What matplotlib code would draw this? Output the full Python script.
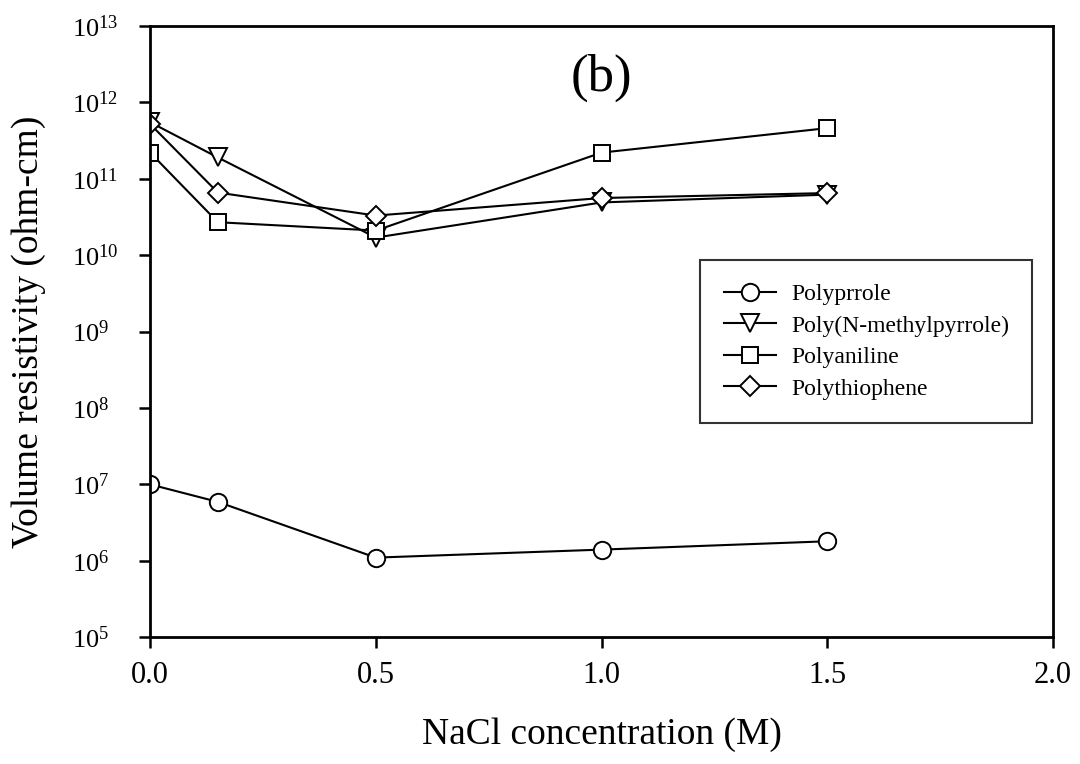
import numpy as np
import matplotlib
matplotlib.use("Agg")
import matplotlib.pyplot as plt
from matplotlib.ticker import LogLocator, LogFormatterMathtext, FixedLocator, FormatStrFormatter

plt.rcParams['font.family'] = 'Liberation Serif'
plt.rcParams['mathtext.fontset'] = 'custom'
plt.rcParams['mathtext.rm'] = 'Liberation Serif'
plt.rcParams['mathtext.it'] = 'Liberation Serif:italic'

# NaCl concentration (M)
nacl = [0.0, 0.15, 0.5, 1.0, 1.5]

# volume resistivity (ohm-cm)
polypyrrole = [1.0e7, 5.9e6, 1.1e6, 1.4e6, 1.8e6]
poly_nmp = [5.5e11, 1.9e11, 1.7e10, 4.9e10, 6.2e10]
polyaniline = [2.2e11, 2.7e10, 2.1e10, 2.2e11, 4.6e11]
polythiophene = [5.2e11, 6.6e10, 3.3e10, 5.6e10, 6.5e10]

labels = ["Polyprrole", "Poly(N-methylpyrrole)", "Polyaniline", "Polythiophene"]

fig = plt.figure(figsize=(10.8, 7.64), dpi=100)
ax = fig.add_axes([0.139, 0.166, 0.836, 0.800])

style = dict(color='black', lw=1.5, markerfacecolor='white',
             markeredgecolor='black', markeredgewidth=1.4)
ax.plot(nacl, polypyrrole, marker='o', ms=12.5, label=labels[0], **style)
ax.plot(nacl, poly_nmp, marker='v', ms=12.5, label=labels[1], **style)
ax.plot(nacl, polyaniline, marker='s', ms=11.5, label=labels[2], **style)
ax.plot(nacl, polythiophene, marker='D', ms=10, label=labels[3], **style)

ax.set_yscale('log')
ax.set_ylim(1e5, 1e13)
ax.set_xlim(0, 2.0)
ax.yaxis.set_major_locator(LogLocator(base=10, numticks=20))
ax.yaxis.set_minor_locator(FixedLocator([]))
ax.yaxis.set_major_formatter(LogFormatterMathtext())
ax.xaxis.set_major_locator(FixedLocator([0.0, 0.5, 1.0, 1.5, 2.0]))
ax.xaxis.set_major_formatter(FormatStrFormatter('%.1f'))

for s in ax.spines.values():
    s.set_linewidth(2)
ax.tick_params(direction='out', length=8, width=1.8)
ax.tick_params(axis='x', labelsize=22, pad=9)
ax.tick_params(axis='y', labelsize=19, pad=48)
for t in ax.get_yticklabels():
    t.set_horizontalalignment('left')

ax.set_xlabel("NaCl concentration (M)", fontsize=27, labelpad=20)
fig.text(0.027, (764 - 332) / 764, "Volume resistivity (ohm-cm)", fontsize=27,
         rotation=90, ha='center', va='center')
ax.text(0.5, 0.955, "(b)", transform=ax.transAxes, fontsize=38,
        ha='center', va='top')

leg = ax.legend(loc='upper left', bbox_to_anchor=(0.609, 0.617), fontsize=17,
                frameon=True, fancybox=False, handlelength=2.2,
                borderpad=1.0, borderaxespad=0, labelspacing=0.42,
                handletextpad=0.65)
leg.get_frame().set_edgecolor('black')
leg.get_frame().set_linewidth(1.5)

fig.savefig("out.png", dpi=100)
